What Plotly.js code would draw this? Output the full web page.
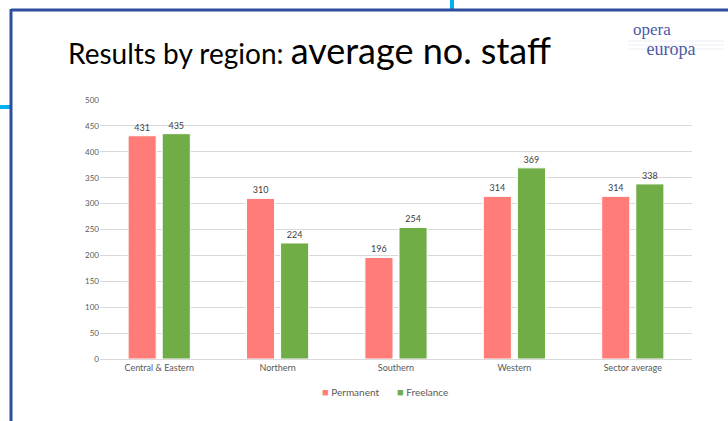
<!DOCTYPE html>
<html>
<head>
<meta charset="utf-8">
<script src="https://cdn.plot.ly/plotly-3.0.1.min.js"></script>
<style>html,body{margin:0;padding:0;background:#fff;}#chart{width:728px;height:421px;}</style>
</head>
<body>
<div id="chart"></div>
<script>
const categories = ["Central & Eastern", "Northern", "Southern", "Western", "Sector average"];
const permanent = [431, 310, 196, 314, 314];
const freelance = [435, 224, 254, 369, 338];
const seriesNames = ["Permanent", "Freelance"];
const seriesColors = ["#FF7C78", "#70AD47"];
const yTicks = [0, 50, 100, 150, 200, 250, 300, 350, 400, 450, 500];

const W = 728, H = 421;
const px = x => x / W;
const py = y => 1 - y / H;
const FONT = "Lato, 'Open Sans', sans-serif";

const traces = [
  {type: "bar", name: seriesNames[0], x: categories, y: permanent,
   marker: {color: seriesColors[0], line: {color: "#ffffff", width: 1}},
   text: permanent.map(String), textposition: "outside", cliponaxis: false,
   textfont: {family: FONT, size: 9, color: "#404040"}, hoverinfo: "skip"},
  {type: "bar", name: seriesNames[1], x: categories, y: freelance,
   marker: {color: seriesColors[1], line: {color: "#ffffff", width: 1}},
   text: freelance.map(String), textposition: "outside", cliponaxis: false,
   textfont: {family: FONT, size: 9, color: "#404040"}, hoverinfo: "skip"}
];

const legendAnn = [
  {x: 320, name: seriesNames[0], color: seriesColors[0]},
  {x: 395, name: seriesNames[1], color: seriesColors[1]}
].map(o => ({
  xref: "paper", yref: "paper", x: px(o.x), y: py(391), xanchor: "left", yanchor: "middle", showarrow: false,
  text: "<span style='color:" + o.color + ";font-size:11px'>■</span> " + o.name,
  font: {family: FONT, size: 10, color: "#595959"}
}));

const layout = {
  width: W, height: H,
  margin: {l: 0, r: 0, t: 0, b: 0},
  paper_bgcolor: "#ffffff", plot_bgcolor: "#ffffff",
  barmode: "group", bargap: 0.424, bargroupgap: 0.176,
  showlegend: false,
  xaxis: {domain: [px(100), px(692)], automargin: false, showgrid: false, showline: true,
          linecolor: "#d9d9d9", linewidth: 1, ticks: "",
          tickfont: {family: FONT, size: 9, color: "#595959"}},
  yaxis: {domain: [py(359), py(100)], range: [0, 500], automargin: false, tickvals: yTicks,
          showgrid: true, gridcolor: "#d9d9d9", gridwidth: 1, zeroline: true, zerolinecolor: "#d9d9d9",
          showline: false, ticks: "", ticklen: 0, tickfont: {family: FONT, size: 8, color: "#595959"}},
  shapes: [
    {type: "line", xref: "paper", yref: "paper", x0: px(452), x1: px(452), y0: py(0), y1: py(10),
     line: {color: "#00B0F0", width: 4}},
    {type: "line", xref: "paper", yref: "paper", x0: px(0), x1: px(11), y0: py(107), y1: py(107),
     line: {color: "#00B0F0", width: 4}},
    {type: "line", xref: "paper", yref: "paper", x0: px(11), x1: px(740), y0: py(10), y1: py(10),
     line: {color: "#2F4E9E", width: 3}},
    {type: "line", xref: "paper", yref: "paper", x0: px(11), x1: px(11), y0: py(9), y1: py(430),
     line: {color: "#2F4E9E", width: 3}},
    {type: "line", xref: "paper", yref: "paper", x0: px(628), x1: px(724), y0: py(41), y1: py(41),
     line: {color: "#ECEEF4", width: 1}},
    {type: "line", xref: "paper", yref: "paper", x0: px(628), x1: px(724), y0: py(45), y1: py(45),
     line: {color: "#ECEEF4", width: 1}},
    {type: "line", xref: "paper", yref: "paper", x0: px(628), x1: px(724), y0: py(49), y1: py(49),
     line: {color: "#ECEEF4", width: 1}}
  ],
  annotations: [
    {xref: "paper", yref: "paper", x: px(66), y: py(50), xanchor: "left", yanchor: "middle", showarrow: false,
     text: "<span style='font-size:28px'>Results by region: </span><span style='font-size:36px'>average no. staff</span>",
     font: {family: FONT, color: "#000000", size: 28}},
    {xref: "paper", yref: "paper", x: px(631), y: py(40), xanchor: "left", yanchor: "middle", showarrow: false,
     align: "left",
     text: "<span style='font-size:17px'>opera</span><br><span style='font-size:18px'>&nbsp;&nbsp;&nbsp;europa</span>",
     font: {family: "'Liberation Serif', serif", size: 15, color: "#4A5AA8"}}
  ].concat(legendAnn)
};

Plotly.newPlot("chart", traces, layout, {displayModeBar: false, staticPlot: true});
</script>
</body>
</html>
